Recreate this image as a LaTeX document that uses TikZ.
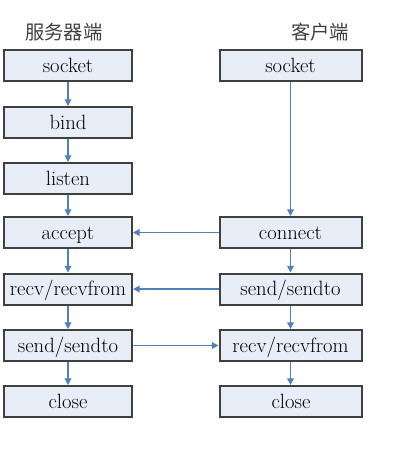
\documentclass[tikz,border=0pt]{standalone}
\usepackage{fontspec}
\newfontfamily\cjk{Noto Sans CJK SC}
\usetikzlibrary{arrows.meta}
\definecolor{boxfill}{RGB}{232,238,247}
\definecolor{boxline}{RGB}{64,64,64}
\definecolor{arrowblue}{RGB}{79,129,189}
\begin{document}
\begin{tikzpicture}[x=0.75pt,y=-0.75pt,
  stepbox/.style={draw=boxline,line width=1.5pt,fill=boxfill,minimum height=23.25pt,inner sep=0pt,text height=11pt,text depth=1pt,font=\rmfamily\fontsize{15.5}{18}\selectfont},
  lbox/.style={stepbox,minimum width=96pt},
  rbox/.style={stepbox,minimum width=106.5pt},
  conn/.style={draw=arrowblue,line width=0.9pt,-{Triangle[length=5pt,width=5pt]}},
  title/.style={font=\cjk\fontsize{14.5}{17}\selectfont,text=black!75}]
\useasboundingbox (0,0) rectangle (417,450);
\node[title] (t1) at (64,32) {服务器端};
\node[title] (t2) at (320,32) {客户端};
\node[lbox] (s1) at (68,65.5) {socket};
\node[lbox] (s2) at (68,122.5) {bind};
\node[lbox] (s3) at (68,178.5) {listen};
\node[lbox] (s4) at (68,232.5) {accept};
\node[lbox] (s5) at (68,289) {recv/recvfrom};
\node[lbox] (s6) at (68,345.5) {send/sendto};
\node[lbox] (s7) at (68,401.5) {close};
\node[rbox] (c1) at (290.5,65.5) {socket};
\node[rbox] (c4) at (290.5,232.5) {connect};
\node[rbox] (c5) at (290.5,289) {send/sendto};
\node[rbox] (c6) at (290.5,345.5) {recv/recvfrom};
\node[rbox] (c7) at (291,401.5) {close};
\draw[conn] (s1) -- (s2);
\draw[conn] (s2) -- (s3);
\draw[conn] (s3) -- (s4);
\draw[conn] (s4) -- (s5);
\draw[conn] (s5) -- (s6);
\draw[conn] (s6) -- (s7);
\draw[conn] (c1) -- (c4);
\draw[conn] (c4) -- (c5);
\draw[conn] (c5) -- (c6);
\draw[conn] (c6.south) -- (c6.south |- c7.north);
\draw[conn] (c4) -- (s4);
\draw[conn] (c5) -- (s5);
\draw[conn] (s6) -- (c6);
\end{tikzpicture}
\end{document}
